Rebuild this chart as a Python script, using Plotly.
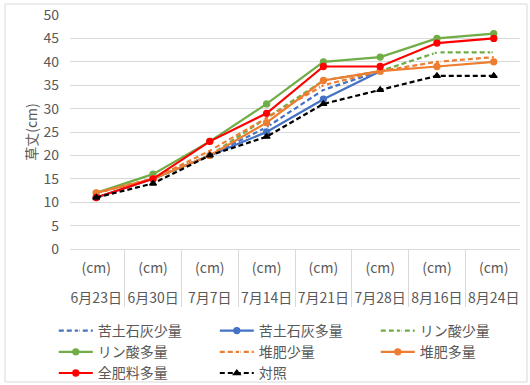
import plotly.graph_objects as go

# Survey dates and the unit row shown above them on the category axis
dates = ["6月23日", "6月30日", "7月7日", "7月14日", "7月21日", "7月28日", "8月16日", "8月24日"]
unit_row = ["(cm)"] * len(dates)

# Plant height (cm) per treatment
kudo_low = [12, 15, 20, 26, 34, 38, None, None]     # 苦土石灰少量
kudo_high = [11, 15, 20, 25, 32, 38, None, None]    # 苦土石灰多量
rin_low = [12, 15, 20, 28, 36, 38, 42, 42]          # リン酸少量
rin_high = [12, 16, 23, 31, 40, 41, 45, 46]         # リン酸多量
taihi_low = [12, 15, 21, 28, 35, 38, 40, 41]        # 堆肥少量
taihi_high = [12, 15, 20, 27, 36, 38, 39, 40]       # 堆肥多量
zenhiryo = [11, 15, 23, 29, 39, 39, 44, 45]         # 全肥料多量
control = [11, 14, 20, 24, 31, 34, 37, 37]          # 対照

y_ticks = list(range(0, 51, 5))

BLUE = "#4472C4"
ORANGE = "#ED7D31"
GREEN = "#70AD47"
RED = "#FF0000"
BLACK = "#000000"
GRAY_TEXT = "#595959"
FONT = "Noto Sans CJK JP"
DASH = "5px,3px"

series = [
    ("苦土石灰少量", kudo_low, BLUE, DASH, "circle-open"),
    ("苦土石灰多量", kudo_high, BLUE, "solid", "circle"),
    ("リン酸少量", rin_low, GREEN, DASH, "circle-open"),
    ("リン酸多量", rin_high, GREEN, "solid", "circle"),
    ("堆肥少量", taihi_low, ORANGE, DASH, "circle-open"),
    ("堆肥多量", taihi_high, ORANGE, "solid", "circle"),
    ("全肥料多量", zenhiryo, RED, "solid", "circle"),
    ("対照", control, BLACK, DASH, "triangle-up"),
]

x_multi = [dates, unit_row]

fig = go.Figure()
for name, vals, color, dash, symbol in series:
    open_marker = symbol.endswith("open")
    fig.add_trace(go.Scatter(
        x=x_multi,
        y=vals,
        name=name,
        mode="lines+markers",
        line=dict(color=color, width=2.2, dash=dash),
        marker=dict(
            symbol=symbol,
            size=6,
            color="white" if open_marker else color,
            line=dict(color=color, width=1.3),
        ),
        connectgaps=False,
    ))

fig.update_layout(
    width=530,
    height=385,
    margin=dict(l=70, r=10, t=15, b=136, autoexpand=False),
    paper_bgcolor="white",
    plot_bgcolor="white",
    font=dict(family=FONT, size=14, color=GRAY_TEXT),
    showlegend=True,
    legend=dict(
        orientation="h",
        xref="paper",
        yref="paper",
        x=-0.036,
        y=-0.282,
        xanchor="left",
        yanchor="top",
        entrywidth=112,
        entrywidthmode="pixels",
        itemwidth=34,
        tracegroupgap=0,
        font=dict(family=FONT, size=14, color=GRAY_TEXT),
        bgcolor="rgba(0,0,0,0)",
        traceorder="normal",
    ),
    shapes=[
        dict(
            type="rect",
            xref="paper", yref="paper",
            x0=-65 / 450, x1=1 + 7 / 450,
            y0=-(136 - 3) / 234, y1=1 + 11 / 234,
            line=dict(color="#D9D9D9", width=1),
            layer="below",
        )
    ],
)

fig.update_yaxes(
    range=[0, 50],
    tickvals=y_ticks,
    showgrid=True,
    gridcolor="#D9D9D9",
    gridwidth=1,
    zeroline=False,
    showline=False,
    ticks="",
    ticklabelstandoff=10,
    tickfont=dict(family=FONT, size=14, color=GRAY_TEXT),
    title=dict(text="草丈(cm)", font=dict(family=FONT, size=14, color=GRAY_TEXT), standoff=2),
    automargin=False,
)

fig.update_xaxes(
    type="multicategory",
    showgrid=False,
    showline=True,
    linecolor="#D9D9D9",
    linewidth=1,
    showdividers=True,
    dividercolor="#D9D9D9",
    dividerwidth=1,
    ticks="outside",
    tickson="labels",
    ticklen=14,
    ticklabelstandoff=-8,
    tickcolor="rgba(0,0,0,0)",
    tickfont=dict(family=FONT, size=14, color=GRAY_TEXT),
    automargin=False,
)

fig.write_html("out.html")
